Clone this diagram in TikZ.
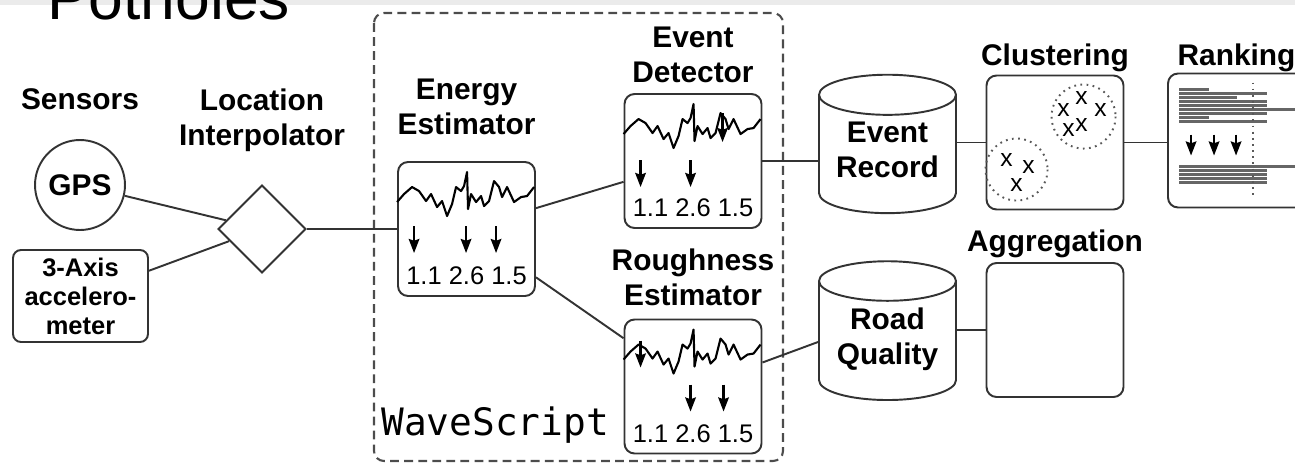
\documentclass[tikz,border=0pt]{standalone}
\usepackage{fontspec}
\setmainfont{Liberation Sans}
\newfontfamily\codefont{DejaVu Sans Mono}
\usepackage{tikz}
\usetikzlibrary{shapes.geometric, arrows.meta}
\usetikzlibrary{positioning, calc}

\newcommand{\tagfont}{\bfseries\fontsize{17}{20}\selectfont}

\begin{document}
\begin{tikzpicture}[
        x=0.02cm, y=-0.02cm,
        box/.style={rectangle, rounded corners=0.2cm, draw=black!80, line width=1.1pt, minimum width=2.74cm, minimum height=2.68cm},
        store/.style={cylinder, shape border rotate=90, aspect=0.35, draw=black!80, line width=1.1pt, minimum width=2.74cm, minimum height=2.66cm, align=center, text depth=0.36cm, font=\tagfont},
        tag/.style={align=center, inner sep=0pt, font=\tagfont},
        link/.style={line width=1.1pt, draw=black!80},
        drop/.style={line width=1.3pt, -{Stealth[length=8pt, width=6pt, inset=1pt]}},
        nums/.style={inner sep=0pt, font=\fontsize{14.5}{16}\selectfont},
        spot/.style={draw=black!65, line width=1.1pt, dash pattern=on 1pt off 2.5pt},
        bar/.style={draw=black!60, line width=1.4pt},
        frame/.style={draw=black!70, line width=1.2pt, dash pattern=on 5pt off 3pt, rounded corners=0.2cm},
        pics/wave/.style={code={
            \draw[line width=1.2pt, line join=round] (0,41) -- (7,33) -- (15,26) -- (22,30) -- (29,40) -- (34,33) -- (40,46) -- (45,40) -- (50,55) -- (55,43) -- (59,26) -- (64,30) -- (67,25) -- (70,11) -- (71,48) -- (74,33) -- (79,41) -- (84,35) -- (87,45) -- (92,40) -- (97,20) -- (102,26) -- (105,36) -- (110,26) -- (117,41) -- (124,36) -- (130,35) -- (137,26);
        }}
    ]

        \path[use as bounding box] (0,0) rectangle (1295,463);
        \clip (0,0) rectangle (1295,463);

        % ===== 标题 =====
        \fill[black!8] (0,0) rectangle (1295,5);
        \node (title) [anchor=base west, inner sep=0pt, font=\fontsize{35.5}{40}\selectfont] at (47,19) {Potholes};

        % ===== 传感器 =====
        \node (gps) [circle, draw=black!80, line width=1.1pt, minimum size=1.8cm, inner sep=0pt, font=\tagfont] at (80,185) {GPS};
        \node (accel) [rectangle, rounded corners=0.16cm, draw=black!80, line width=1.1pt, minimum width=2.7cm, minimum height=1.84cm, inner sep=0pt, align=center, font=\bfseries\fontsize{14.5}{16.5}\selectfont] at (80.5,296) {3-Axis\\accelero-\\meter};
        \node (interp) [diamond, aspect=1, draw=black!80, line width=1.1pt, minimum width=1.76cm, minimum height=1.76cm, inner sep=0pt] at (262,229) {};

        \node (sensorsTag) [tag, above=0.58cm of gps] {Sensors};
        \node (interpTag) [tag, above=0.64cm of interp] {Location\\Interpolator};

        % ===== WaveScript =====
        \draw [frame] (374,13) rectangle (783,461);
        \node (wsTag) [anchor=base west, inner sep=0pt, font=\codefont\fontsize{21.5}{24}\selectfont] at (381,435) {WaveScript};

        \node (energy) [box] at (466.5,229) {};
        \node (detector) [box] at (693,161) {};
        \node (rough) [box] at (693,386.5) {};

        \node (energyTag) [tag, above=0.52cm of energy] {Energy\\Estimator};
        \node (detectorTag) [tag, above=0.2cm of detector] {Event\\Detector};
        \node (roughTag) [tag, above=0.24cm of rough] {Roughness\\Estimator};

        \foreach \b in {energy, detector, rough} {
            \pic at (\b.north west) {wave};
            \node (\b-nums) [nums] at ($(\b.north)+(0,115)$) {1.1 2.6 1.5};
        }
        \foreach \i in {17,69,99} \draw [drop] ($(energy.north west)+(\i,65)$) -- ++(0,27);
        \foreach \i in {17,67} \draw [drop] ($(detector.north west)+(\i,67)$) -- ++(0,27);
        \draw [drop] ($(detector.north west)+(99,20)$) -- ++(0,29);
        \draw [drop] ($(rough.north west)+(17,22)$) -- ++(0,27);
        \foreach \i in {67,100} \draw [drop] ($(rough.north west)+(\i,66)$) -- ++(0,27);

        % ===== 存储与后处理 =====
        \node (record) [store] at (887.5,158.5) {Event\\Record};
        \node (quality) [store] at (887.5,345) {Road\\Quality};
        \node (cluster) [box] at (1055,142.5) {};
        \node (aggr) [box] at (1055,330) {};
        \node (rank) [box] at (1236.5,140.5) {};

        \node (clusterTag) [tag, above=0.04cm of cluster] {Clustering};
        \node (rankTag) [tag, anchor=base] at (rank.north |- clusterTag.base) {Ranking};
        \node (aggrTag) [tag, above=0.07cm of aggr] {Aggregation};

        % 聚类
        \begin{scope}[shift={(cluster.north west)}]
            \draw [spot] (98,42) circle [radius=32];
            \draw [spot] (31,95) circle [radius=31];
            \foreach \p [count=\k] in {(96,23),(78,35),(115,35),(83,55),(96,50),(21,85),(43,92),(31,110)}
                \node (cx\k) [inner sep=0pt, font=\fontsize{14}{15}\selectfont] at \p {x};
        \end{scope}

        % 排序
        \begin{scope}[shift={(rank.north west)}]
            \foreach \h/\l in {17/42, 21/100, 25/70, 29/100, 33/100, 37/140, 41/100, 45/42, 49/100}
                \draw [bar] (12,\h) -- (\l,\h);
            \draw [bar] (12,94) -- (140,94);
            \foreach \h in {98,102,106,110} \draw [bar] (12,\h) -- (100,\h);
            \foreach \i in {24,47,69} \draw [drop] (\i,62) -- ++(0,21);
            \draw [spot] (86,10) -- (86,122);
        \end{scope}

        % ===== 连线 =====
        \draw [link] (gps) -- (interp);
        \draw [link] (accel) -- (interp);
        \draw [link] (interp) -- (energy);
        \draw [link] (energy) -- (detector);
        \draw [link] (energy) -- (rough);
        \draw [link] (detector.east) -- (detector.east -| record.west);
        \draw [link] ($(rough.east)+(0,-24)$) -- ($(quality.west)+(0,-3)$);
        \draw [link] (cluster.west -| record.east) -- (cluster.west);
        \draw [link] (aggr.west -| quality.east) -- (aggr.west);
        \draw [link] (cluster.east) -- (cluster.east -| rank.west);

    \end{tikzpicture}
\end{document}
